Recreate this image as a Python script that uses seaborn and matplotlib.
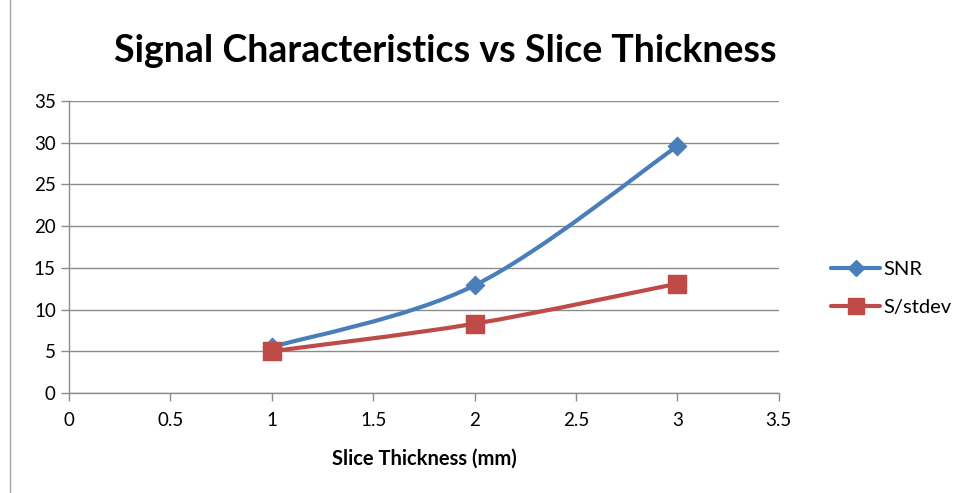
import matplotlib
matplotlib.use("Agg")
import matplotlib.pyplot as plt
import seaborn as sns
import pandas as pd
from matplotlib.path import Path
from matplotlib.patches import PathPatch
from matplotlib.lines import Line2D

# chart data
thickness = [1, 2, 3]
snr = [5.5, 12.9, 29.6]
s_stdev = [5.0, 8.3, 13.1]
x_ticks = [0, 0.5, 1, 1.5, 2, 2.5, 3, 3.5]
y_ticks = [0, 5, 10, 15, 20, 25, 30, 35]

BLUE = "#4a7ebb"
RED = "#be4b48"
GRID = "#8c8c8c"


def smooth_path(xs, ys):
    """Excel-like smoothed line: Catmull-Rom spline as cubic Bezier segments."""
    pts = list(zip(xs, ys))
    verts = [pts[0]]
    codes = [Path.MOVETO]
    for i in range(len(pts) - 1):
        p0 = pts[i - 1] if i > 0 else pts[i]
        p1 = pts[i]
        p2 = pts[i + 1]
        p3 = pts[i + 2] if i + 2 < len(pts) else pts[i + 1]
        c1 = (p1[0] + (p2[0] - p0[0]) / 6, p1[1] + (p2[1] - p0[1]) / 6)
        c2 = (p2[0] - (p3[0] - p1[0]) / 6, p2[1] - (p3[1] - p1[1]) / 6)
        verts += [c1, c2, p2]
        codes += [Path.CURVE4] * 3
    return Path(verts, codes)


def main():
    sns.set_theme(style="white")
    plt.rcParams["font.family"] = ["Lato", "DejaVu Sans"]
    plt.rcParams["text.color"] = "black"
    plt.rcParams["axes.labelcolor"] = "black"

    df = pd.DataFrame({"thickness": thickness, "SNR": snr, "S/stdev": s_stdev})

    fig = plt.figure(figsize=(9.59, 4.93), dpi=100)
    ax = fig.add_axes([0.072, 0.203, 0.740, 0.592])

    for col, color in [("SNR", BLUE), ("S/stdev", RED)]:
        ax.add_patch(PathPatch(smooth_path(df["thickness"], df[col]),
                               facecolor="none", edgecolor=color, lw=3,
                               capstyle="round", zorder=3))
    sns.scatterplot(data=df, x="thickness", y="SNR", marker="D", s=90,
                    color=BLUE, edgecolor=BLUE, zorder=4, ax=ax)
    sns.scatterplot(data=df, x="thickness", y="S/stdev", marker="s", s=170,
                    color=RED, edgecolor=RED, zorder=5, ax=ax)

    ax.set_xlim(0, 3.5)
    ax.set_ylim(0, 35)
    ax.set_xticks(x_ticks)
    ax.set_xticklabels([f"{t:g}" for t in x_ticks])
    ax.set_yticks(y_ticks)
    ax.yaxis.grid(True, color=GRID, lw=1)
    ax.set_axisbelow(True)
    for side in ["top", "right"]:
        ax.spines[side].set_visible(False)
    for side in ["left", "bottom"]:
        ax.spines[side].set_color(GRID)
        ax.spines[side].set_linewidth(1)
    ax.tick_params(axis="both", which="both", length=6, width=1, color=GRID,
                   labelsize=13.5, labelcolor="black", direction="out",
                   left=True, bottom=True)
    ax.tick_params(axis="x", pad=8)
    ax.set_xlabel("Slice Thickness (mm)", fontsize=14.5, fontweight="bold",
                  labelpad=14, color="black")
    ax.set_ylabel("")

    fig.text(0.464, 0.896, "Signal Characteristics vs Slice Thickness",
             ha="center", va="center", fontsize=27, fontweight="bold",
             color="black")

    handles = [
        Line2D([], [], color=BLUE, lw=3, marker="D", markersize=8),
        Line2D([], [], color=RED, lw=3, marker="s", markersize=11),
    ]
    fig.legend(handles, ["SNR", "S/stdev"], loc="center left",
               bbox_to_anchor=(0.848, 0.415), frameon=False, fontsize=14.5,
               handlelength=2.4, handletextpad=0.2, labelspacing=1.0,
               labelcolor="black")

    # chart area border on the left edge
    fig.add_artist(Line2D([10 / 959, 10 / 959], [0, 1], color="#a6a6a6", lw=1,
                          transform=fig.transFigure))

    fig.savefig("out.png", dpi=100)
    plt.close(fig)


if __name__ == "__main__":
    main()
